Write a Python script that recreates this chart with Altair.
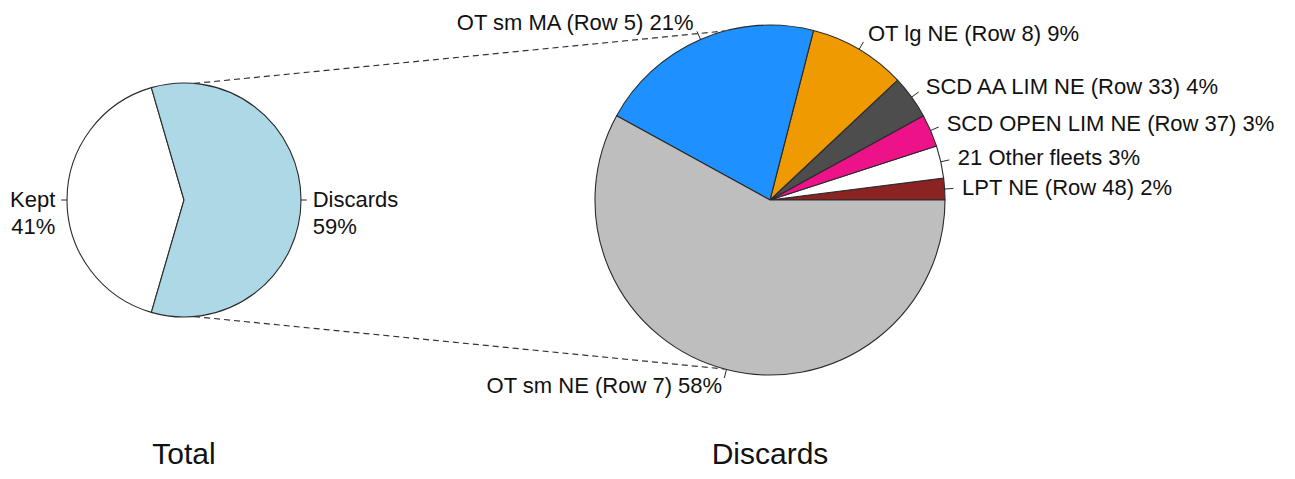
import math
import altair as alt
import pandas as pd

# ---------------- data ----------------
total_names = ["Kept", "Discards"]
total_pcts = [41, 59]
total_colors = ["#FFFFFF", "#ADD8E6"]

discard_names = [
    "LPT NE (Row 48)",
    "21 Other fleets",
    "SCD OPEN LIM NE (Row 37)",
    "SCD AA LIM NE (Row 33)",
    "OT lg NE (Row 8)",
    "OT sm MA (Row 5)",
    "OT sm NE (Row 7)",
]
discard_pcts = [2, 3, 3, 4, 9, 21, 58]
discard_colors = ["#8B2323", "#FFFFFF", "#EE1289", "#4D4D4D", "#EE9A00", "#1E90FF", "#BEBEBE"]

panel_titles = ["Total", "Discards"]

# ---------------- layout ----------------
W, H = 1279, 463
FONT = "Liberation Sans"
LEFT = dict(cx=176, cy=192, r=117)
RIGHT = dict(cx=762, cy=192, r=175)
TITLE_Y = 447

XS = alt.Scale(domain=[0, W], range=[0, W], nice=False, zero=False)
YS = alt.Scale(domain=[0, H], range=[0, H], nice=False, zero=False)

left_df = pd.DataFrame({
    "idx": range(len(total_names)),
    "name": total_names,
    "pct": total_pcts,
    "text": [f"{n}\n{p}%" for n, p in zip(total_names, total_pcts)],
})
right_df = pd.DataFrame({
    "idx": range(len(discard_names)),
    "name": discard_names,
    "pct": discard_pcts,
    "text": [f"{n} {p}%" for n, p in zip(discard_names, discard_pcts)],
})


def pie(df, names, colors, g, a0_deg):
    total = float(df["pct"].sum())
    a0 = math.radians(a0_deg)
    # counter-clockwise from a0 (math angle) -> vega theta decreasing
    t0 = math.pi / 2 - a0
    t1 = t0 - 2 * math.pi
    while t1 < 0:
        t0 += 2 * math.pi
        t1 += 2 * math.pi
    base = alt.Chart(df)
    arcs = base.mark_arc(radius=g["r"], stroke="#2a2a2a", strokeWidth=1.1).encode(
        theta=alt.Theta("pct:Q", stack=True, scale=alt.Scale(domain=[0, total], range=[t0, t1])),
        order=alt.Order("idx:Q"),
        color=alt.Color("name:N", scale=alt.Scale(domain=names, range=colors), legend=None),
        x=alt.value(g["cx"]),
        y=alt.value(g["cy"]),
    )
    geo = base.transform_window(
        cum="sum(pct)", sort=[alt.SortField("idx")], frame=[None, 0]
    ).transform_calculate(
        ang=f"{a0} + 2*PI*(datum.cum - datum.pct/2)/{total}",
    ).transform_calculate(
        tx1=f"{g['cx']} + {g['r']}*cos(datum.ang)",
        ty1=f"{g['cy']} - {g['r']}*sin(datum.ang)",
        tx2=f"{g['cx']} + {1.05 * g['r']}*cos(datum.ang)",
        ty2=f"{g['cy']} - {1.05 * g['r']}*sin(datum.ang)",
        lx=f"{g['cx']} + {1.1 * g['r']}*cos(datum.ang)",
        ly=f"{g['cy']} - {1.1 * g['r']}*sin(datum.ang)",
    )
    ticks = geo.mark_rule(color="#2a2a2a", strokeWidth=1).encode(
        x=alt.X("tx1:Q", scale=XS, axis=None),
        y=alt.Y("ty1:Q", scale=YS, axis=None),
        x2="tx2:Q",
        y2="ty2:Q",
    )
    lab_kw = dict(baseline="middle", fontSize=22, font=FONT, color="#111111", lineBreak="\n", lineHeight=27)
    lab_r = geo.transform_filter("cos(datum.ang) >= 0").mark_text(align="left", **lab_kw).encode(
        x=alt.X("lx:Q", scale=XS, axis=None),
        y=alt.Y("ly:Q", scale=YS, axis=None),
        text="text:N",
    )
    lab_l = geo.transform_filter("cos(datum.ang) < 0").mark_text(align="right", **lab_kw).encode(
        x=alt.X("lx:Q", scale=XS, axis=None),
        y=alt.Y("ly:Q", scale=YS, axis=None),
        text="text:N",
    )
    return [arcs, ticks, lab_r, lab_l]


kept_share = total_pcts[0] / sum(total_pcts)
left_layers = pie(left_df, total_names, total_colors, LEFT, 180 - 360 * kept_share / 2)
right_layers = pie(right_df, discard_names, discard_colors, RIGHT, 0)

# dashed connectors between the two pies (angles on each circle)
conn_df = pd.DataFrame({"la": [85.0, -85.0], "ra": [105.0, -105.0]})
connectors = alt.Chart(conn_df).transform_calculate(
    x1=f"{LEFT['cx']} + {LEFT['r']}*cos(datum.la*PI/180)",
    y1=f"{LEFT['cy']} - {LEFT['r']}*sin(datum.la*PI/180)",
    x2=f"{RIGHT['cx']} + {RIGHT['r']}*cos(datum.ra*PI/180)",
    y2=f"{RIGHT['cy']} - {RIGHT['r']}*sin(datum.ra*PI/180)",
).mark_rule(color="#333333", strokeWidth=1.2, strokeDash=[6, 4]).encode(
    x=alt.X("x1:Q", scale=XS, axis=None),
    y=alt.Y("y1:Q", scale=YS, axis=None),
    x2="x2:Q",
    y2="y2:Q",
)

titles = []
for t, g in zip(panel_titles, [LEFT, RIGHT]):
    titles.append(
        alt.Chart(pd.DataFrame({"t": [t]})).mark_text(
            fontSize=30, font=FONT, color="#111111", align="center", baseline="middle"
        ).encode(x=alt.value(g["cx"]), y=alt.value(TITLE_Y), text="t:N")
    )

chart = alt.layer(
    connectors, *left_layers, *right_layers, *titles
).resolve_scale(
    theta="independent", color="independent"
).properties(
    width=W, height=H, padding=0, autosize=alt.AutoSizeParams(type="none"), background="white"
).configure_view(stroke=None)

chart.save("out.html", embed_options={"renderer": "svg", "actions": False})
